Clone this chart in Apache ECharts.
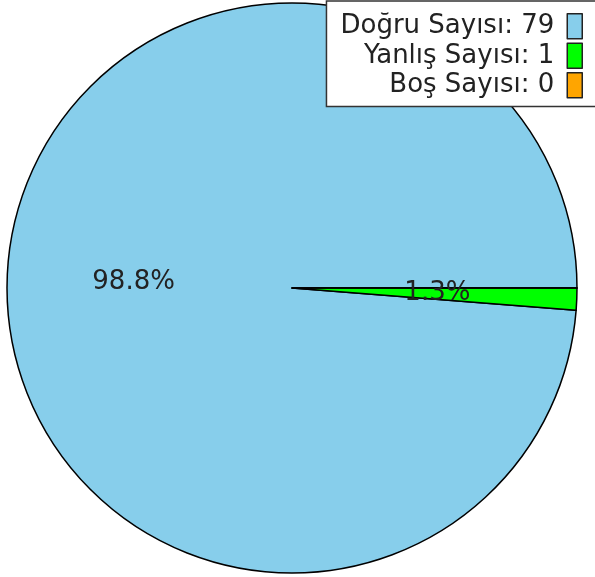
<!DOCTYPE html>
<html>
<head>
<meta charset="utf-8">
<script src="https://cdn.jsdelivr.net/npm/echarts@6/dist/echarts.min.js"></script>
<style>
  html, body { margin: 0; padding: 0; background: #fff; }
  #chart { width: 595px; height: 577px; }
</style>
</head>
<body>
<div id="chart"></div>
<script>
// kategoriler ve değerler
var names = ['Doğru Sayısı', 'Yanlış Sayısı', 'Boş Sayısı'];
var values = [79, 1, 0];
var colors = ['#87CEEB', '#00FF00', '#FFA500'];

var chart = echarts.init(document.getElementById('chart'));

var pieData = [];
for (var i = 0; i < names.length; i++) {
    var item = {
        name: names[i] + ': ' + values[i],
        value: values[i],
        itemStyle: { color: colors[i] }
    };
    // büyük dilimin etiketi biraz daha sola
    if (i === 0) item.label = { padding: [0, 26, 0, 0] };
    pieData.push(item);
}

var option = {
    animation: false,
    backgroundColor: '#fff',
    legend: {
        orient: 'vertical',
        right: -6,
        top: 1,
        align: 'right',
        icon: 'rect',
        itemWidth: 15,
        itemHeight: 25,
        itemGap: 3,
        padding: [12, 18, 8, 14],
        backgroundColor: '#fff',
        borderColor: '#333',
        borderWidth: 1.5,
        borderRadius: 0,
        selectedMode: false,
        itemStyle: { borderColor: '#222', borderWidth: 1.5 },
        textStyle: {
            fontFamily: 'DejaVu Sans',
            fontSize: 26,
            color: '#222',
            padding: [0, 8, 0, 0]
        },
        data: pieData.map(function (d) { return d.name; })
    },
    series: [{
        type: 'pie',
        center: [292, 288],
        radius: 285,
        startAngle: 0,
        clockwise: false,
        minAngle: 0,
        avoidLabelOverlap: false,
        itemStyle: { borderColor: '#000', borderWidth: 1.5 },
        emphasis: { disabled: true },
        label: {
            show: true,
            position: 'inside',
            fontFamily: 'DejaVu Sans',
            fontSize: 26,
            color: '#222',
            formatter: function (p) {
                if (p.value === 0) return '';
                return p.percent.toFixed(1) + '%';
            }
        },
        labelLine: { show: false },
        data: pieData
    }]
};
chart.setOption(option);
</script>
</body>
</html>
